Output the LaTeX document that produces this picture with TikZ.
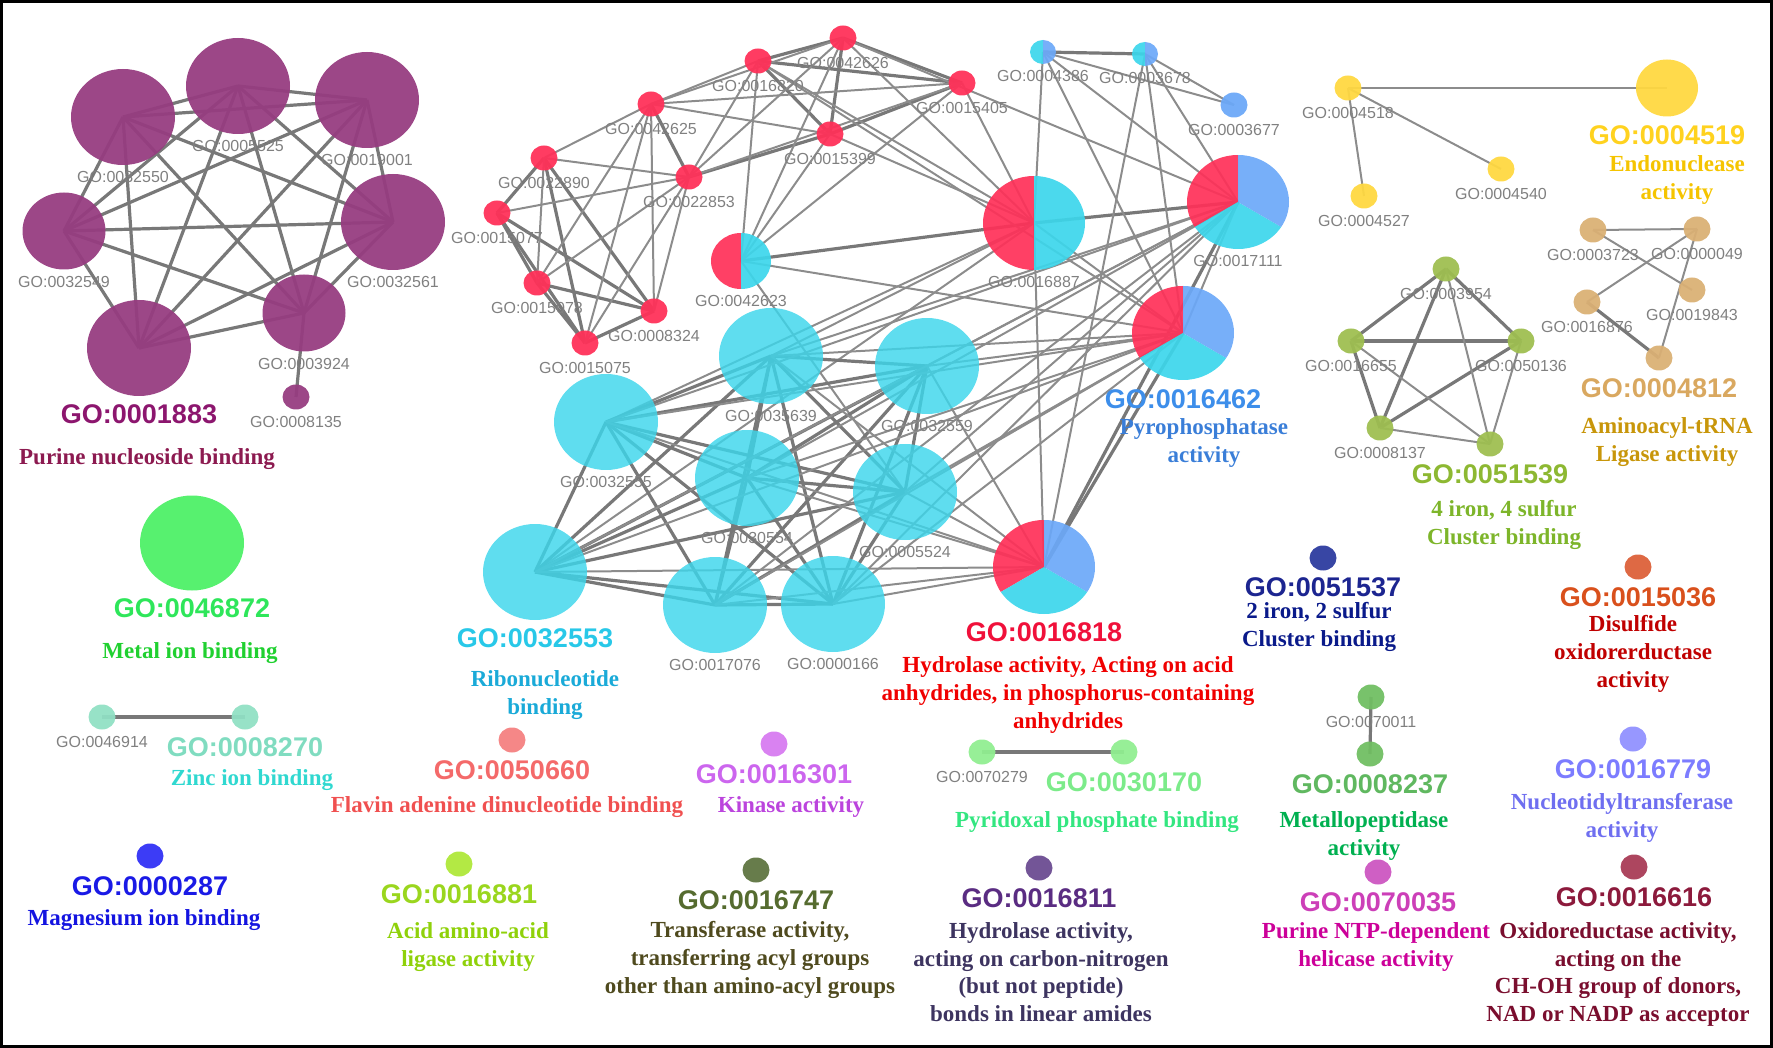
\documentclass[tikz,border=0pt]{standalone}
\usepackage{fontspec}
\setmainfont{Liberation Serif}
\setsansfont{Liberation Sans}
\usetikzlibrary{positioning,shapes.geometric,calc}

\definecolor{edgec}{RGB}{140,140,140}
\definecolor{edgeb}{RGB}{120,120,120}
\definecolor{lblgray}{RGB}{128,128,128}
\definecolor{purp}{RGB}{150,60,128}
\definecolor{purplbl}{RGB}{140,22,110}
\definecolor{purptxt}{RGB}{140,26,80}
\definecolor{pred}{RGB}{255,48,88}
\definecolor{pcyan}{RGB}{60,214,235}
\definecolor{pblue}{RGB}{107,168,248}
\definecolor{cyanlbl}{RGB}{40,200,232}
\definecolor{cyantxt}{RGB}{26,170,216}
\definecolor{redlbl}{RGB}{240,16,58}
\definecolor{redtxt}{RGB}{240,0,0}
\definecolor{bluelbl}{RGB}{61,142,234}
\definecolor{bluetxt}{RGB}{58,126,216}
\definecolor{pyel}{RGB}{255,216,64}
\definecolor{yellbl}{RGB}{255,210,31}
\definecolor{yeltxt}{RGB}{245,196,0}
\definecolor{ptan}{RGB}{218,176,116}
\definecolor{tanlbl}{RGB}{217,168,96}
\definecolor{tantxt}{RGB}{200,150,10}
\definecolor{polive}{RGB}{158,190,80}
\definecolor{olivelbl}{RGB}{141,184,50}
\definecolor{olivetxt}{RGB}{125,181,42}
\definecolor{metaln}{RGB}{76,240,102}
\definecolor{metall}{RGB}{46,230,90}
\definecolor{metalt}{RGB}{32,208,48}
\definecolor{zincn}{RGB}{144,224,196}
\definecolor{zincl}{RGB}{128,220,192}
\definecolor{zinct}{RGB}{48,216,208}
\definecolor{fadn}{RGB}{244,128,128}
\definecolor{fadl}{RGB}{244,106,106}
\definecolor{fadt}{RGB}{240,80,80}
\definecolor{kinn}{RGB}{215,122,240}
\definecolor{kinl}{RGB}{204,102,238}
\definecolor{kint}{RGB}{187,68,221}
\definecolor{pyrn}{RGB}{144,238,144}
\definecolor{pyrl}{RGB}{124,235,138}
\definecolor{pyrt}{RGB}{51,230,128}
\definecolor{fesn}{RGB}{44,58,158}
\definecolor{fesl}{RGB}{28,37,144}
\definecolor{fest}{RGB}{10,26,138}
\definecolor{metpn}{RGB}{112,190,98}
\definecolor{metpl}{RGB}{96,184,96}
\definecolor{metpt}{RGB}{0,176,80}
\definecolor{disn}{RGB}{220,96,56}
\definecolor{disl}{RGB}{217,80,28}
\definecolor{dist}{RGB}{192,0,0}
\definecolor{nucn}{RGB}{144,144,255}
\definecolor{nucl}{RGB}{124,124,255}
\definecolor{nuct}{RGB}{111,111,240}
\definecolor{oxin}{RGB}{168,58,85}
\definecolor{oxil}{RGB}{140,26,60}
\definecolor{oxit}{RGB}{122,14,46}
\definecolor{ntpn}{RGB}{204,85,192}
\definecolor{ntpl}{RGB}{204,63,184}
\definecolor{ntpt}{RGB}{204,0,153}
\definecolor{hydn}{RGB}{106,74,144}
\definecolor{hydl}{RGB}{90,44,130}
\definecolor{hydt}{RGB}{61,52,96}
\definecolor{tran}{RGB}{94,116,64}
\definecolor{tral}{RGB}{85,107,47}
\definecolor{trat}{RGB}{79,74,30}
\definecolor{acin}{RGB}{174,232,56}
\definecolor{acil}{RGB}{154,214,30}
\definecolor{acit}{RGB}{143,209,10}
\definecolor{magn}{RGB}{48,48,245}
\definecolor{magl}{RGB}{26,26,230}
\definecolor{magt}{RGB}{20,20,224}

\pgfdeclarelayer{edges}
\pgfsetlayers{edges,main}

\newcommand{\gofont}{\sffamily\fontsize{16}{19}\selectfont}
\newcommand{\bigfont}{\sffamily\bfseries\fontsize{27}{32}\selectfont}
\newcommand{\descfont}{\rmfamily\bfseries\fontsize{23}{27.7}\selectfont}

% one slice of a pie node: node, start angle, end angle, colour
\newcommand{\piesector}[4]{%
  \fill[#4, fill opacity=0.92] (#1.center) -- ([shift={(#2:80pt)}]#1.center)
    -- ([shift={({(#2+#3)/2}:80pt)}]#1.center)
    -- ([shift={(#3:80pt)}]#1.center) -- cycle;}
\newcommand{\piethree}[1]{%
  \begin{scope}
    \clip (#1.center) ellipse [x radius=51pt, y radius=47pt];
    \piesector{#1}{90}{210}{pred}
    \piesector{#1}{210}{330}{pcyan}
    \piesector{#1}{330}{450}{pblue}
  \end{scope}}
\newcommand{\piehalf}[5]{%
  \begin{scope}
    \clip (#1.center) ellipse [x radius=#2, y radius=#3];
    \piesector{#1}{90}{270}{#4}
    \piesector{#1}{-90}{90}{#5}
  \end{scope}}

\begin{document}
\begin{tikzpicture}[x=1pt, y=-1pt,
    go/.style={ellipse, inner sep=0pt, fill opacity=0.94},
    bigc/.style={go, minimum width=104pt, minimum height=96pt},
    midc/.style={go, minimum width=83pt, minimum height=77pt},
    dot/.style={go, minimum width=27pt, minimum height=25pt},
    pie/.style={ellipse, inner sep=0pt, minimum width=102pt, minimum height=94pt},
    golbl/.style={font=\gofont, text=lblgray, inner sep=0pt},
    gobig/.style={font=\bigfont, inner sep=0pt},
    godesc/.style={font=\descfont, align=center, inner sep=0pt},
    lnk/.style={draw=edgec, line width=2pt},
    lnkb/.style={draw=edgeb, line width=3.2pt}]
    \useasboundingbox (0,0) rectangle (1773,1048);
    \draw[line width=3pt] (1.5,1.5) rectangle (1771.5,1046.5);

    % purine nucleoside binding
    \node[bigc, fill=purp] (n32550) at (123,117) {};
    \node[bigc, fill=purp] (n5525) at (238,86) {};
    \node[bigc, fill=purp] (n19001) at (367,100) {};
    \node[midc, fill=purp] (n32549) at (64,231) {};
    \node[bigc, fill=purp] (n32561) at (393,222) {};
    \node[bigc, fill=purp] (n1883) at (139,348) {};
    \node[midc, fill=purp] (n3924) at (304,313) {};
    \node[dot, fill=purp] (n8135) at (296,397) {};

    % hydrolase cluster
    \node[dot, fill=pred] (r42626) at (843,38) {};
    \node[dot, fill=pred] (r16820) at (758,61) {};
    \node[dot, fill=pred] (r42625) at (651,104) {};
    \node[dot, fill=pred] (r15399) at (830,134) {};
    \node[dot, fill=pred] (r22890) at (544,158) {};
    \node[dot, fill=pred] (r22853) at (689,177) {};
    \node[dot, fill=pred] (r15077) at (497,213) {};
    \node[dot, fill=pred] (r15078) at (537,283) {};
    \node[dot, fill=pred] (r8324) at (654,311) {};
    \node[dot, fill=pred] (r15075) at (585,343) {};
    \node[dot, fill=pred] (r15405) at (962,83) {};
    \node[dot, fill=pblue] (b3677) at (1234,105) {};
    \node[ellipse, inner sep=0pt, minimum width=60pt, minimum height=56pt] (h42623) at (741,261) {};
    \node[ellipse, inner sep=0pt, minimum width=26pt, minimum height=24pt] (h4386) at (1043,52) {};
    \node[ellipse, inner sep=0pt, minimum width=26pt, minimum height=24pt] (h3678) at (1145,54) {};
    \node[pie] (p16887) at (1034,223) {};
    \node[pie] (p17111) at (1238,202) {};
    \node[pie] (p16462) at (1183,333) {};
    \node[pie] (p16818) at (1044,567) {};
    \piehalf{h42623}{30pt}{28pt}{pred}{pcyan}
    \piehalf{h4386}{13pt}{12pt}{pcyan}{pblue}
    \piehalf{h3678}{13pt}{12pt}{pcyan}{pblue}
    \piehalf{p16887}{51pt}{47pt}{pred}{pcyan}
    \piethree{p17111}
    \piethree{p16462}
    \piethree{p16818}

    % ribonucleotide binding
    \node[bigc, fill=pcyan, fill opacity=0.82] (c35639) at (771,356) {};
    \node[bigc, fill=pcyan, fill opacity=0.82] (c32559) at (927,366) {};
    \node[bigc, fill=pcyan, fill opacity=0.82] (c32555) at (606,422) {};
    \node[bigc, fill=pcyan, fill opacity=0.82] (c30554) at (747,478) {};
    \node[bigc, fill=pcyan, fill opacity=0.82] (c5524) at (905,492) {};
    \node[bigc, fill=pcyan, fill opacity=0.82] (c32553) at (535,572) {};
    \node[bigc, fill=pcyan, fill opacity=0.82] (c17076) at (715,605) {};
    \node[bigc, fill=pcyan, fill opacity=0.82] (c166) at (833,604) {};

    % endonuclease, aminoacyl-tRNA, 4Fe-4S
    \node[dot, fill=pyel] (y4518) at (1348,88) {};
    \node[go, fill=pyel, minimum width=62pt, minimum height=57pt] (y4519) at (1667,88) {};
    \node[dot, fill=pyel] (y4527) at (1364,196) {};
    \node[dot, fill=pyel] (y4540) at (1501,169) {};
    \node[dot, fill=ptan] (a3723) at (1593,230) {};
    \node[dot, fill=ptan] (a49) at (1697,229) {};
    \node[dot, fill=ptan] (a16876) at (1587,302) {};
    \node[dot, fill=ptan] (a19843) at (1692,290) {};
    \node[dot, fill=ptan] (a4812) at (1659,358) {};
    \node[dot, fill=polive] (g3954) at (1446,269) {};
    \node[dot, fill=polive] (g16655) at (1351,341) {};
    \node[dot, fill=polive] (g50136) at (1521,341) {};
    \node[dot, fill=polive] (g8137) at (1380,428) {};
    \node[dot, fill=polive] (g51539) at (1490,444) {};

    % single terms
    \node[bigc, fill=metaln, minimum height=95pt] (s46872) at (192,543) {};
    \node[dot, fill=zincn] (s46914) at (102,717) {};
    \node[dot, fill=zincn] (s8270) at (245,717) {};
    \node[dot, fill=fadn] (s50660) at (512,740) {};
    \node[dot, fill=kinn] (s16301) at (774,744) {};
    \node[dot, fill=pyrn] (s70279) at (982,752) {};
    \node[dot, fill=pyrn] (s30170) at (1124,752) {};
    \node[dot, fill=fesn] (s51537) at (1323,558) {};
    \node[dot, fill=metpn] (s70011) at (1371,697) {};
    \node[dot, fill=metpn] (s8237) at (1370,754) {};
    \node[dot, fill=disn] (s15036) at (1638,567) {};
    \node[dot, fill=nucn] (s16779) at (1633,739) {};
    \node[dot, fill=oxin] (s16616) at (1634,867) {};
    \node[dot, fill=ntpn] (s70035) at (1378,872) {};
    \node[dot, fill=hydn] (s16811) at (1039,868) {};
    \node[dot, fill=tran] (s16747) at (756,870) {};
    \node[dot, fill=acin] (s16881) at (459,864) {};
    \node[dot, fill=magn] (s287) at (150,856) {};

    % grey term labels
    \foreach \n/\t in {n32550/0032550, n5525/0005525, n19001/0019001, n32549/0032549,
        n32561/0032561, n3924/0003924, n8135/0008135, r42626/0042626, r16820/0016820,
        r42625/0042625, r15399/0015399, r22890/0022890, r22853/0022853, r15077/0015077,
        r15078/0015078, r8324/0008324, r15075/0015075, r15405/0015405, b3677/0003677,
        h42623/0042623, h4386/0004386, h3678/0003678, p16887/0016887, p17111/0017111,
        c35639/0035639, c32559/0032559, c32555/0032555, c30554/0030554, c5524/0005524,
        c17076/0017076, c166/0000166, y4518/0004518, y4527/0004527, y4540/0004540,
        a3723/0003723, a49/0000049, a16876/0016876, a19843/0019843, g3954/0003954,
        g16655/0016655, g50136/0050136, g8137/0008137, s46914/0046914, s70279/0070279,
        s70011/0070011}
        \node[golbl, below=6pt of \n] (lab\t) {GO:\t};

    % group labels and descriptions
    \node[gobig, text=purplbl, below=8pt of n1883] (go1883) {GO:0001883};
    \node[godesc, text=purptxt, below=25pt of go1883, xshift=8pt] (txt1883) {Purine nucleoside binding};
    \node[gobig, text=cyanlbl, below=8pt of c32553] (go32553) {GO:0032553};
    \node[godesc, text=cyantxt, below=23pt of go32553, xshift=10pt] (txt32553) {Ribonucleotide\\binding};
    \node[gobig, text=redlbl, below=8pt of p16818] (go16818) {GO:0016818};
    \node[godesc, text=redtxt, below=15pt of go16818, xshift=24pt] (txt16818) {Hydrolase activity, Acting on acid\\anhydrides, in phosphorus-containing\\anhydrides};
    \node[gobig, text=bluelbl, below=9pt of p16462] (go16462) {GO:0016462};
    \node[godesc, text=bluetxt, below=10pt of go16462, xshift=21pt] (txt16462) {Pyrophosphatase\\activity};
    \node[gobig, text=yellbl, below=9pt of y4519] (go4519) {GO:0004519};
    \node[godesc, text=yeltxt, below=10pt of go4519, xshift=10pt] (txt4519) {Endonuclease\\activity};
    \node[gobig, text=tanlbl, below=8pt of a4812] (go4812) {GO:0004812};
    \node[godesc, text=tantxt, below=19pt of go4812, xshift=8pt] (txt4812) {Aminoacyl-tRNA\\Ligase activity};
    \node[gobig, text=olivelbl, below=8pt of g51539] (go51539) {GO:0051539};
    \node[godesc, text=olivetxt, below=16pt of go51539, xshift=14pt] (txt51539) {4 iron, 4 sulfur\\Cluster binding};
    \node[gobig, text=metall, below=8pt of s46872] (go46872) {GO:0046872};
    \node[godesc, text=metalt, below=24pt of go46872, xshift=-2pt] (txt46872) {Metal ion binding};
    \node[gobig, text=zincl, below=8pt of s8270] (go8270) {GO:0008270};
    \node[godesc, text=zinct, below=12pt of go8270, xshift=7pt] (txt8270) {Zinc ion binding};
    \node[gobig, text=fadl, below=8pt of s50660] (go50660) {GO:0050660};
    \node[godesc, text=fadt, below=16pt of go50660, xshift=-5pt] (txt50660) {Flavin adenine dinucleotide binding};
    \node[gobig, text=kinl, below=8pt of s16301] (go16301) {GO:0016301};
    \node[godesc, text=kint, below=12pt of go16301, xshift=17pt] (txt16301) {Kinase activity};
    \node[gobig, text=pyrl, below=8pt of s30170] (go30170) {GO:0030170};
    \node[godesc, text=pyrt, below=19pt of go30170, xshift=-27pt] (txt30170) {Pyridoxal phosphate binding};
    \node[gobig, text=fesl, below=7pt of s51537] (go51537) {GO:0051537};
    \node[godesc, text=fest, below=5pt of go51537, xshift=-4pt] (txt51537) {2 iron, 2 sulfur\\Cluster binding};
    \node[gobig, text=metpl, below=8pt of s8237] (go8237) {GO:0008237};
    \node[godesc, text=metpt, below=17pt of go8237, xshift=-6pt] (txt8237) {Metallopeptidase\\activity};
    \node[gobig, text=disl, below=8pt of s15036] (go15036) {GO:0015036};
    \node[godesc, text=dist, below=8pt of go15036, xshift=-5pt] (txt15036) {Disulfide\\oxidorerductase\\activity};
    \node[gobig, text=nucl, below=8pt of s16779] (go16779) {GO:0016779};
    \node[godesc, text=nuct, below=14pt of go16779, xshift=-11pt] (txt16779) {Nucleotidyltransferase\\activity};
    \node[gobig, text=oxil, below=8pt of s16616] (go16616) {GO:0016616};
    \node[godesc, text=oxit, below=15pt of go16616, xshift=-16pt] (txt16616) {Oxidoreductase activity,\\acting on the\\CH-OH group of donors,\\NAD or NADP as acceptor};
    \node[gobig, text=ntpl, below=8pt of s70035] (go70035) {GO:0070035};
    \node[godesc, text=ntpt, below=10pt of go70035, xshift=-2pt] (txt70035) {Purine NTP-dependent\\helicase activity};
    \node[gobig, text=hydl, below=8pt of s16811] (go16811) {GO:0016811};
    \node[godesc, text=hydt, below=14pt of go16811, xshift=2pt] (txt16811) {Hydrolase activity,\\acting on carbon-nitrogen\\(but not peptide)\\bonds in linear amides};
    \node[gobig, text=tral, below=8pt of s16747] (go16747) {GO:0016747};
    \node[godesc, text=trat, below=11pt of go16747, xshift=-6pt] (txt16747) {Transferase activity,\\transferring acyl groups\\other than amino-acyl groups};
    \node[gobig, text=acil, below=8pt of s16881] (go16881) {GO:0016881};
    \node[godesc, text=acit, below=18pt of go16881, xshift=9pt] (txt16881) {Acid amino-acid\\ligase activity};
    \node[gobig, text=magl, below=8pt of s287] (go287) {GO:0000287};
    \node[godesc, text=magt, below=13pt of go287, xshift=-6pt] (txt287) {Magnesium ion binding};

    \begin{pgfonlayer}{edges}
        % purine cluster
        \foreach \a/\rest in {n32550/{n5525,n19001,n32549,n32561,n1883,n3924},
            n5525/{n19001,n32549,n32561,n1883,n3924}, n19001/{n32549,n32561,n1883,n3924},
            n32549/{n32561,n1883,n3924}, n32561/{n1883,n3924}, n1883/{n3924}}
            \foreach \b in \rest \draw[lnkb] (\a.center) -- (\b.center);
        \draw[lnkb] (n3924.center) -- (n8135.center);

        % hydrolase cluster
        \foreach \a/\b in {r22890/r15077, r22890/r15075, r22890/r8324, r15077/r15078,
            r15077/r15075, r15077/r8324, r15078/r8324, r15078/r15075, r15075/r8324,
            r42625/r22853, r22853/r15399, r16820/r42626, r16820/r15405, r16820/r15399,
            r42626/r15399, r42626/r15405, r15399/r15405, h42623/p16887, h4386/h3678,
            p16887/p17111, p17111/p16818, p16462/p16818}
            \draw[lnkb] (\a.center) -- (\b.center);
        \foreach \a/\b in {r22890/r42625, r22890/r22853, r22890/r15078, r15077/r22853,
            r15078/r42625, r15078/r22853, r15075/r42625, r15075/r22853, r8324/r42625,
            r8324/r22853, r42625/r16820, r42625/r42626, r42625/r15405, r42625/r15399,
            r22853/r16820, r22853/r42626, r22853/r15405, h42623/r16820, h42623/r42626,
            h42623/r15399, h42623/r15405, h42623/p16462, h42623/c5524, p16887/r42626,
            p16887/r16820, p16887/r15399, p16887/r15405, p17111/r42626, p16462/r16820,
            h4386/b3677, h3678/b3677, h4386/p16887, h4386/p16462, h4386/p17111,
            h3678/p17111, h3678/p16462, h3678/p16818, p16887/p16818, p16887/p16462,
            p17111/p16462, p16887/c35639, p16887/c32555, p16887/c32553}
            \draw[lnk] (\a.center) -- (\b.center);

        % ribonucleotide cluster
        \foreach \a/\rest in {c35639/{c32559,c32555,c30554,c5524,c32553,c17076,c166},
            c32559/{c32555,c30554,c5524,c32553,c17076,c166},
            c32555/{c30554,c5524,c32553,c17076,c166}, c30554/{c5524,c32553,c17076,c166},
            c5524/{c32553,c17076,c166}, c32553/{c17076,c166}, c17076/{c166}}
            \foreach \b in \rest \draw[lnkb] (\a.center) -- (\b.center);
        \foreach \c in {c35639,c32559,c32555,c30554,c5524,c32553,c17076,c166} {
            \draw[lnk] (\c.center) -- (p16818.center);
            \draw[lnk] (\c.center) -- (p17111.center);
            \draw[lnk] (\c.center) -- (p16462.center);
        }

        % small clusters
        \foreach \a/\b in {g3954/g16655, g3954/g50136, g3954/g8137, g16655/g50136,
            g16655/g8137, g50136/g8137, a16876/a4812, s46914/s8270, s70279/s30170,
            s70011/s8237}
            \draw[lnkb] (\a.center) -- (\b.center);
        \foreach \a/\b in {y4518/y4519, y4518/y4540, y4518/y4527, a3723/a49, a3723/a19843,
            a49/a16876, a49/a4812, g3954/g51539, g16655/g51539, g50136/g51539, g8137/g51539}
            \draw[lnk] (\a.center) -- (\b.center);
    \end{pgfonlayer}
\end{tikzpicture}
\end{document}
